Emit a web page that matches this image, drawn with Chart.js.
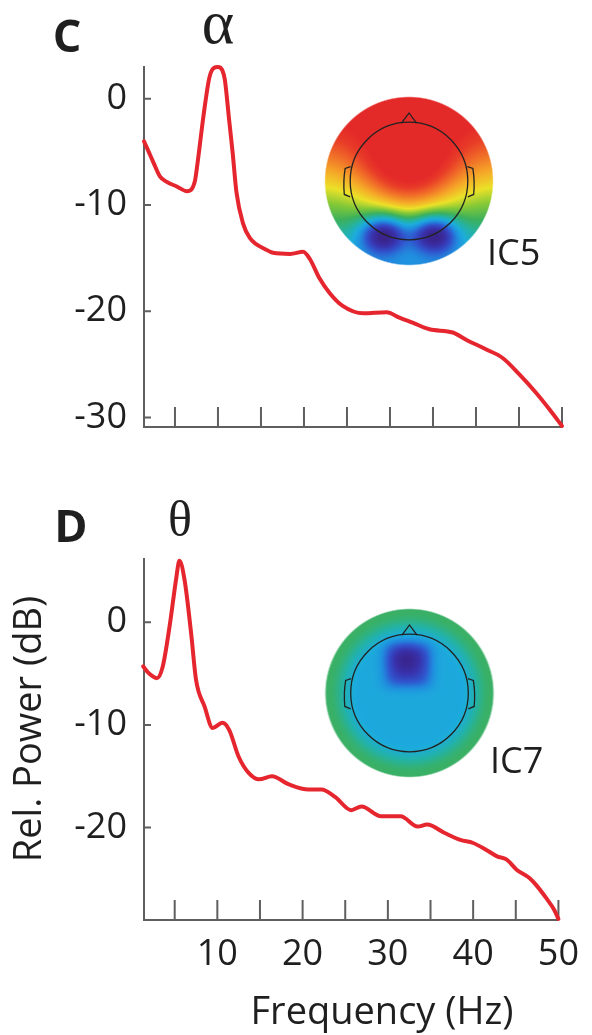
<!DOCTYPE html>
<html lang="en">
<head>
<meta charset="utf-8">
<title>Component spectra</title>
<script src="https://cdn.jsdelivr.net/npm/chart.js@4.4.1/dist/chart.umd.min.js"></script>
<style>
  html, body { margin: 0; padding: 0; background: #fff; }
  .panel { position: absolute; left: 0; }
</style>
</head>
<body>
<canvas id="chartC" class="panel" style="top:0" width="592" height="470"></canvas>
<canvas id="chartD" class="panel" style="top:470px" width="592" height="565"></canvas>
<script>
// IC5 spectrum (alpha component)
const freqC  = [1.4, 1.9, 2.5, 3.25, 4.0, 5.2, 6.4, 7.3, 7.6, 8.3, 9.0, 9.5, 10.0, 10.5, 10.8, 11.3, 11.7, 12.15, 12.9, 13.7,
                15.6, 16.4, 18.4, 19.9, 20.7, 21.8, 23.0, 24.5, 26.9, 29.6, 31.1, 32.7, 34.6, 37.3, 38.9, 41.2, 43.1, 45.1, 47.0, 48.6, 50.0];
const powerC = [-4.0, -4.9, -6.0, -7.3, -7.8, -8.25, -8.7, -7.8, -6.2, -1.7, 2.0, 2.9, 3.0, 2.7, 1.8, -2.0, -5.0, -8.8, -11.7, -13.1,
                -14.2, -14.5, -14.6, -14.4, -15.1, -16.9, -18.3, -19.5, -20.2, -20.1, -20.6, -21.1, -21.7, -22.0, -22.7, -23.6, -24.4, -26.0, -27.7, -29.3, -30.8];

// IC7 spectrum (theta component)
const freqD  = [1.3, 2.0, 2.9, 3.6, 4.4, 5.2, 5.55, 6.16, 6.93, 7.5, 8.5, 9.45, 10.6, 11.4, 12.5, 13.7, 14.9, 16.4, 18.4, 20.7,
                22.2, 23.8, 25.7, 26.9, 29.2, 31.5, 33.5, 34.6, 36.6, 38.5, 40.0, 41.6, 42.8, 43.9, 45.1, 46.6, 47.4, 48.6, 49.5, 50.0];
const powerD = [-4.3, -5.0, -5.45, -4.3, -0.4, 4.4, 6.0, 4.1, -1.1, -5.6, -8.2, -10.3, -9.8, -10.5, -13.1, -14.7, -15.3, -15.0, -15.8, -16.3,
                -16.3, -17.0, -18.3, -17.95, -18.9, -18.9, -19.9, -19.7, -20.5, -21.2, -21.5, -22.2, -22.8, -23.1, -24.1, -24.9, -25.6, -26.9, -28.0, -28.9];

const xTicks  = [5, 10, 15, 20, 25, 30, 35, 40, 45, 50];
const xLabels = [10, 20, 30, 40, 50];
const yTicksC = [-30, -20, -10, 0];
const yTicksD = [-20, -10, 0];

const RED = '#e6262e';
const AXIS = '#5f5f5f';
const INK = '#1f1f1f';
const SANS = '"Open Sans", "Noto Sans", sans-serif';
const SERIF = '"Liberation Serif", "DejaVu Serif", serif';

// jet-like colour ramp for the scalp maps
const rampStops = [
  [0.00, [58, 36, 140]], [0.10, [56, 50, 172]], [0.20, [48, 84, 205]], [0.30, [32, 140, 222]],
  [0.38, [28, 172, 220]], [0.46, [35, 178, 165]], [0.54, [60, 176, 92]], [0.62, [130, 200, 55]],
  [0.70, [235, 225, 40]], [0.78, [245, 170, 40]], [0.87, [240, 105, 40]], [0.94, [232, 60, 40]],
  [1.00, [228, 42, 40]]
];
function colormap(v) {
  v = Math.min(1, Math.max(0, v));
  for (let i = 1; i < rampStops.length; i++) {
    const [t1, c1] = rampStops[i];
    const [t0, c0] = rampStops[i - 1];
    if (v <= t1) {
      const f = (v - t0) / (t1 - t0);
      return c0.map((c, k) => Math.round(c + (c1[k] - c) * f));
    }
  }
  return rampStops[rampStops.length - 1][1];
}

const gauss = (u, w, cu, cw, su, sw) => Math.exp(-((u - cu) ** 2 / su + (w - cw) ** 2 / sw));
const smooth = (a, b, x) => { const t = Math.min(1, Math.max(0, (x - a) / (b - a))); return t * t * (3 - 2 * t); };

// scalp fields, u to the right and w downward, both in units of the map radius
const scalpFields = {
  alpha: (u, w) => 0.72 - 0.40 * w + 0.32 * gauss(u, w, 0, -0.2, 0.3, 0.35)
                   - 0.5 * (gauss(u, w, -0.3, 0.64, 0.07, 0.045) + gauss(u, w, 0.3, 0.64, 0.07, 0.045)),
  theta: (u, w) => {
    const spot = Math.exp(-(((u + 0.02) / 0.29) ** 4 + ((w + 0.33) / 0.27) ** 4));
    return 0.37 + 0.16 * smooth(0.6, 0.97, Math.hypot(u, w)) - 0.19 * spot - 0.17 * gauss(u, w, -0.03, -0.39, 0.035, 0.035);
  }
};

function drawTopo(ctx, cx, cy, R, field) {
  const size = Math.ceil(2 * R + 4);
  const off = document.createElement('canvas');
  off.width = off.height = size;
  const octx = off.getContext('2d');
  const img = octx.createImageData(size, size);
  const c = size / 2;
  for (let j = 0; j < size; j++) {
    for (let i = 0; i < size; i++) {
      const dx = i + 0.5 - c, dy = j + 0.5 - c;
      const a = Math.min(1, Math.max(0, (R - Math.hypot(dx, dy)) / 1.5 + 0.5));
      if (!a) continue;
      const col = colormap(field(dx / R, dy / R));
      const k = (j * size + i) * 4;
      img.data[k] = col[0]; img.data[k + 1] = col[1]; img.data[k + 2] = col[2];
      img.data[k + 3] = Math.round(a * 255);
    }
  }
  octx.putImageData(img, 0, 0);
  ctx.drawImage(off, cx - c, cy - c);

  // head outline with nose and ears
  ctx.save();
  ctx.strokeStyle = '#222';
  ctx.lineWidth = 1.3;
  ctx.beginPath();
  ctx.arc(cx, cy, 0.70 * R, 0, 2 * Math.PI);
  ctx.stroke();
  ctx.beginPath();
  ctx.moveTo(cx - 0.09 * R, cy - 0.69 * R);
  ctx.lineTo(cx, cy - 0.81 * R);
  ctx.lineTo(cx + 0.09 * R, cy - 0.69 * R);
  ctx.stroke();
  [-1, 1].forEach(s => {
    ctx.beginPath();
    ctx.moveTo(cx + s * 0.695 * R, cy - 0.17 * R);
    ctx.lineTo(cx + s * 0.76 * R, cy - 0.15 * R);
    ctx.quadraticCurveTo(cx + s * 0.785 * R, cy, cx + s * 0.77 * R, cy + 0.16 * R);
    ctx.lineTo(cx + s * 0.70 * R, cy + 0.19 * R);
    ctx.stroke();
  });
  ctx.restore();
}

const scalpMaps = {
  chartC: { cx: 409, cy: 181, r: 84, field: 'alpha' },
  chartD: { cx: 409.5, cy: 223, r: 84, field: 'theta' }
};

// panel letters, band symbols, component names and axis titles (canvas-local coordinates)
const panelText = {
  chartC: [
    { text: 'C', x: 67, y: 52, font: `bold 45px ${SANS}` },
    { text: 'α', x: 218, y: 43, font: `62px ${SERIF}` },
    { text: 'IC5', x: 487, y: 265, font: `36px ${SANS}`, align: 'left' }
  ],
  chartD: [
    { text: 'D', x: 71, y: 72, font: `bold 45px ${SANS}` },
    { text: 'θ', x: 180, y: 66, font: `50px ${SERIF}` },
    { text: 'IC7', x: 490, y: 303, font: `36px ${SANS}`, align: 'left' },
    { text: 'Frequency (Hz)', x: 382, y: 554, font: `38px ${SANS}` },
    { text: 'Rel. Power (dB)', x: 41, y: 259, font: `38px ${SANS}`, rotate: -Math.PI / 2 }
  ]
};

const scalpPlugin = {
  id: 'scalpMap',
  beforeDatasetsDraw(chart) {
    const m = scalpMaps[chart.canvas.id];
    drawTopo(chart.ctx, m.cx, m.cy, m.r, scalpFields[m.field]);
  }
};

// tick marks pointing into the plot area
const inwardTicks = {
  id: 'inwardTicks',
  beforeDatasetsDraw(chart) {
    const { ctx, chartArea, scales: { x, y } } = chart;
    ctx.save();
    ctx.strokeStyle = AXIS;
    ctx.lineWidth = 2;
    ctx.beginPath();
    x.ticks.forEach(t => {
      const px = x.getPixelForValue(t.value);
      ctx.moveTo(px, chartArea.bottom);
      ctx.lineTo(px, chartArea.bottom - 20);
    });
    y.ticks.forEach(t => {
      const py = y.getPixelForValue(t.value);
      ctx.moveTo(chartArea.left, py);
      ctx.lineTo(chartArea.left + 7, py);
    });
    ctx.stroke();
    ctx.restore();
  }
};

const textPlugin = {
  id: 'panelText',
  afterDraw(chart) {
    const ctx = chart.ctx;
    panelText[chart.canvas.id].forEach(t => {
      ctx.save();
      ctx.fillStyle = INK;
      ctx.font = t.font;
      ctx.textAlign = t.align || 'center';
      ctx.textBaseline = 'alphabetic';
      ctx.translate(t.x, t.y);
      if (t.rotate) ctx.rotate(t.rotate);
      ctx.fillText(t.text, 0, 0);
      ctx.restore();
    });
  }
};

function spectrumChart(id, freq, power, yTicks, yMin, yMax, topPad, xHeight, showX) {
  return new Chart(document.getElementById(id), {
    type: 'line',
    data: {
      datasets: [{
        data: freq.map((f, i) => ({ x: f, y: power[i] })),
        borderColor: RED,
        borderWidth: 4,
        borderCapStyle: 'round',
        borderJoinStyle: 'round',
        pointRadius: 0,
        cubicInterpolationMode: 'monotone',
        clip: false
      }]
    },
    options: {
      responsive: false,
      animation: false,
      devicePixelRatio: 1,
      layout: { padding: { top: topPad, right: 30, bottom: 0, left: 0 } },
      plugins: { legend: { display: false }, tooltip: { enabled: false } },
      scales: {
        x: {
          type: 'linear',
          min: 1.4,
          max: 50,
          afterBuildTicks: s => { s.ticks = xTicks.map(v => ({ value: v })); },
          afterFit: s => { s.height = xHeight; },
          grid: { display: false, drawTicks: false },
          border: { color: AXIS, width: 2 },
          ticks: {
            display: showX,
            autoSkip: false,
            maxRotation: 0,
            padding: 13,
            color: INK,
            font: { family: SANS, size: 36 },
            callback: v => xLabels.includes(v) ? String(v) : ''
          }
        },
        y: {
          min: yMin,
          max: yMax,
          afterBuildTicks: s => { s.ticks = yTicks.map(v => ({ value: v })); },
          afterFit: s => { s.width = 144; },
          grid: { display: false, drawTicks: false },
          border: { color: AXIS, width: 2 },
          ticks: {
            padding: 17,
            color: INK,
            font: { family: SANS, size: 36 },
            callback: v => String(v)
          }
        }
      }
    },
    plugins: [scalpPlugin, inwardTicks, textPlugin]
  });
}

spectrumChart('chartC', freqC, powerC, yTicksC, -30.9, 3.0, 67, 43, false);
spectrumChart('chartD', freqD, powerD, yTicksD, -29.0, 6.16, 89, 115, true);
</script>
</body>
</html>
